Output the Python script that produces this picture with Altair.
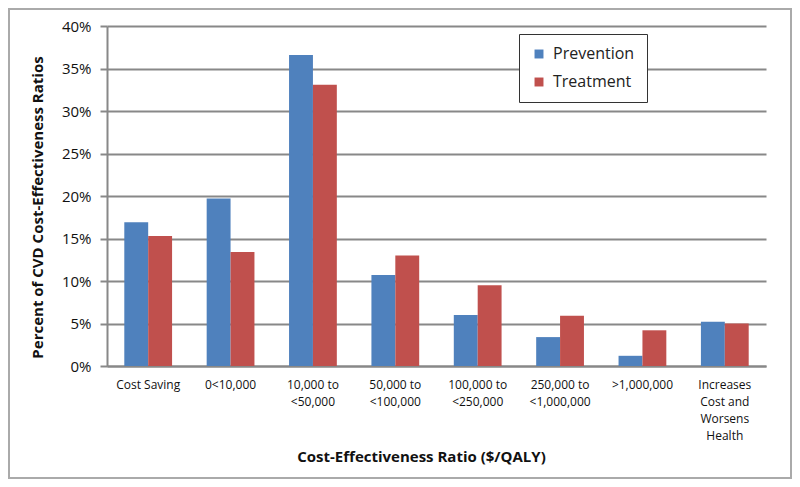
import altair as alt
import pandas as pd

categories = [
    "Cost Saving",
    "0<10,000",
    "10,000 to\n<50,000",
    "50,000 to\n<100,000",
    "100,000 to\n<250,000",
    "250,000 to\n<1,000,000",
    ">1,000,000",
    "Increases\nCost and\nWorsens\nHealth",
]
prevention = [0.169, 0.197, 0.366, 0.107, 0.060, 0.034, 0.012, 0.052]
treatment = [0.153, 0.134, 0.331, 0.130, 0.095, 0.059, 0.042, 0.050]
series = ["Prevention", "Treatment"]
colors = ["#4F81BD", "#C0504D"]

rows = []
for c, p, t in zip(categories, prevention, treatment):
    rows.append({"cat": c, "series": "Prevention", "value": p})
    rows.append({"cat": c, "series": "Treatment", "value": t})
df = pd.DataFrame(rows)

FONT = "Open Sans"

bars = alt.Chart(df).mark_bar().encode(
    x=alt.X(
        "cat:N",
        sort=categories,
        scale=alt.Scale(paddingInner=0.42, paddingOuter=0.21),
        axis=alt.Axis(
            title="Cost-Effectiveness Ratio ($/QALY)",
            labelAngle=0,
            labelExpr="split(datum.label, '\\n')",
            labelFont=FONT,
            labelFontSize=12,
            labelColor="#111",
            labelLineHeight=17,
            labelPadding=13,
            ticks=False,
            domain=True,
            domainColor="#888",
            domainWidth=2,
            titleFont=FONT,
            titleFontSize=15,
            titleFontWeight="bold",
            titleColor="#111",
            titlePadding=8,
            titleX=314,
            labelBaseline="top",
        ),
    ),
    xOffset=alt.XOffset("series:N", sort=series),
    y=alt.Y(
        "value:Q",
        scale=alt.Scale(domain=[0, 0.4], nice=False),
        axis=alt.Axis(
            title="Percent of CVD Cost-Effectiveness Ratios",
            format=".0%",
            values=[0, 0.05, 0.1, 0.15, 0.2, 0.25, 0.3, 0.35, 0.4],
            labelFont=FONT,
            labelFontSize=15,
            labelColor="#111",
            labelPadding=9,
            tickSize=7,
            tickColor="#888",
            tickWidth=2,
            domainColor="#888",
            domainWidth=2,
            grid=True,
            gridColor="#888",
            gridWidth=2,
            titleFont=FONT,
            titleFontSize=15,
            titleFontWeight="bold",
            titleColor="#111",
            titlePadding=16,
            titleY=181,
        ),
    ),
    color=alt.Color(
        "series:N",
        sort=series,
        scale=alt.Scale(domain=series, range=colors),
        legend=alt.Legend(
            title=None,
            orient="none",
            legendX=412,
            legendY=8,
            symbolType="square",
            symbolSize=80,
            symbolStrokeWidth=0,
            labelFont=FONT,
            labelFontSize=16,
            labelColor="#222",
            labelOffset=6,
            rowPadding=12,
            padding=12,
            strokeColor="#333",
            fillColor="white",
            labelLimit=200,
        ),
    ),
)

frame = alt.Chart(pd.DataFrame({"a": [0]})).mark_rect(
    fill=None, stroke="#aaaaaa", strokeWidth=2
).encode(
    x=alt.value(-98), x2=alt.value(684), y=alt.value(-17), y2=alt.value(452)
)

chart = alt.layer(bars, frame).properties(
    width=659,
    height=340,
    padding={"left": 99, "top": 18, "right": 26, "bottom": 113},
    autosize=alt.AutoSizeParams(type="none"),
    background="white",
).configure_view(stroke=None)

chart.save("out.html", embed_options={"renderer": "svg", "actions": False})
